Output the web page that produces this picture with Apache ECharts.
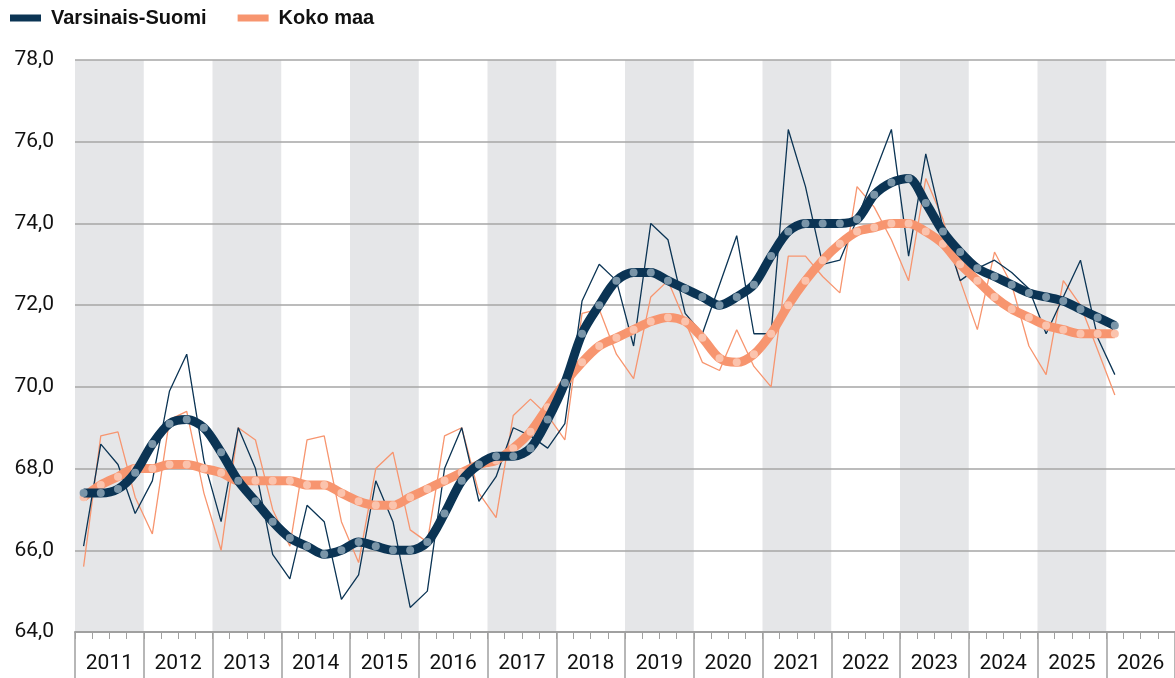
<!DOCTYPE html>
<html>
<head>
<meta charset="utf-8">
<script src="https://cdn.jsdelivr.net/npm/echarts@6/dist/echarts.min.js"></script>
<style>
  html, body { margin: 0; padding: 0; background: #fff; }
  #chart { width: 1175px; height: 678px; }
</style>
</head>
<body>
<div id="chart"></div>
<script>
// vuodet ja neljännekset
const years = ['2011', '2012', '2013', '2014', '2015', '2016', '2017', '2018',
  '2019', '2020', '2021', '2022', '2023', '2024', '2025', '2026'];
const quarters = [];
years.forEach(y => { for (let q = 1; q <= 4; q++) quarters.push(y + 'Q' + q); });

// Varsinais-Suomi, neljännesvuosiarvot
const vsQuarterly = [66.1, 68.6, 68.1, 66.9, 67.7, 69.9, 70.8, 68.2, 66.7, 69.0,
  68.0, 65.9, 65.3, 67.1, 66.7, 64.8, 65.4, 67.7, 66.7, 64.6,
  65.0, 68.0, 69.0, 67.2, 67.8, 69.0, 68.8, 68.5, 69.1, 72.1,
  73.0, 72.6, 71.0, 74.0, 73.6, 71.8, 71.3, 72.5, 73.7, 71.3,
  71.3, 76.3, 74.9, 73.0, 73.1, 74.1, 75.2, 76.3, 73.2, 75.7,
  73.9, 72.6, 72.9, 73.1, 72.8, 72.4, 71.3, 72.2, 73.1, 71.2,
  70.3];
// Varsinais-Suomi, trendi
const vsTrend = [67.4, 67.4, 67.5, 67.9, 68.6, 69.1, 69.2, 69.0, 68.4, 67.7,
  67.2, 66.7, 66.3, 66.1, 65.9, 66.0, 66.2, 66.1, 66.0, 66.0,
  66.2, 66.9, 67.7, 68.1, 68.3, 68.3, 68.5, 69.2, 70.1, 71.3,
  72.0, 72.6, 72.8, 72.8, 72.6, 72.4, 72.2, 72.0, 72.2, 72.5,
  73.2, 73.8, 74.0, 74.0, 74.0, 74.1, 74.7, 75.0, 75.1, 74.5,
  73.8, 73.3, 72.9, 72.7, 72.5, 72.3, 72.2, 72.1, 71.9, 71.7,
  71.5];
// Koko maa, neljännesvuosiarvot
const kmQuarterly = [65.6, 68.8, 68.9, 67.3, 66.4, 69.2, 69.4, 67.4, 66.0, 69.0,
  68.7, 67.0, 66.1, 68.7, 68.8, 66.7, 65.7, 68.0, 68.4, 66.5,
  66.2, 68.8, 69.0, 67.4, 66.8, 69.3, 69.7, 69.3, 68.7, 71.8,
  71.9, 70.8, 70.2, 72.2, 72.6, 71.6, 70.6, 70.4, 71.4, 70.5,
  70.0, 73.2, 73.2, 72.7, 72.3, 74.9, 74.4, 73.6, 72.6, 75.1,
  74.1, 72.6, 71.4, 73.3, 72.5, 71.0, 70.3, 72.6, 72.0, 70.9,
  69.8];
// Koko maa, trendi
const kmTrend = [67.3, 67.6, 67.8, 68.0, 68.0, 68.1, 68.1, 68.0, 67.9, 67.7,
  67.7, 67.7, 67.7, 67.6, 67.6, 67.4, 67.2, 67.1, 67.1, 67.3,
  67.5, 67.7, 67.9, 68.1, 68.2, 68.5, 68.9, 69.5, 70.1, 70.6,
  71.0, 71.2, 71.4, 71.6, 71.7, 71.6, 71.2, 70.7, 70.6, 70.8,
  71.3, 72.0, 72.6, 73.1, 73.5, 73.8, 73.9, 74.0, 74.0, 73.8,
  73.5, 73.0, 72.6, 72.2, 71.9, 71.7, 71.5, 71.4, 71.3, 71.3,
  71.3];

const navy = '#0b3454';
const salmon = '#f7956f';
const font = 'Roboto, sans-serif';
const axisGrey = '#a0a0a0';

const chart = echarts.init(document.getElementById('chart'));

const option = {
  animation: false,
  textStyle: { fontFamily: font },
  legend: {
    left: 5,
    top: 3,
    icon: 'rect',
    itemWidth: 31,
    itemHeight: 7,
    itemGap: 31,
    textStyle: {
      fontFamily: '"Liberation Sans", Arial, sans-serif',
      fontSize: 20,
      fontWeight: 'bold',
      color: '#111',
      padding: [0, 0, 0, 5]
    },
    data: [
      { name: 'Varsinais-Suomi', itemStyle: { color: navy } },
      { name: 'Koko maa', itemStyle: { color: salmon } }
    ]
  },
  grid: {
    left: 75,
    right: -3,
    top: 60,
    bottom: 46
  },
  xAxis: [
    {
      // neljännekset
      type: 'category',
      data: quarters,
      boundaryGap: true,
      axisLine: { show: true, onZero: false, lineStyle: { color: axisGrey, width: 2 } },
      axisTick: { show: true, interval: 0, length: 7, lineStyle: { color: axisGrey, width: 1 } },
      axisLabel: { show: false },
      splitLine: { show: false },
      splitArea: { show: false }
    },
    {
      // vuodet, taustaraidat
      type: 'category',
      data: years,
      position: 'bottom',
      boundaryGap: true,
      z: -1,
      axisLine: { show: false },
      axisTick: { show: true, interval: 0, length: 46, lineStyle: { color: axisGrey, width: 1.5 } },
      axisLabel: {
        show: true,
        interval: 0,
        margin: 21,
        fontSize: 21,
        color: '#111',
        fontFamily: font
      },
      splitArea: {
        show: true,
        interval: 0,
        areaStyle: { color: ['#e5e6e8', 'rgba(255,255,255,0)'] }
      },
      splitLine: { show: false }
    }
  ],
  yAxis: {
    type: 'value',
    min: 64,
    max: 78,
    interval: 2,
    axisLine: { show: false },
    axisTick: { show: false },
    axisLabel: {
      margin: 21,
      fontSize: 21,
      color: '#111',
      fontFamily: font,
      formatter: v => v.toFixed(1).replace('.', ',')
    },
    splitLine: { show: true, lineStyle: { color: '#a6a6a6', width: 1.5 } }
  },
  series: [
    {
      name: 'Koko maa',
      type: 'line',
      data: kmQuarterly,
      showSymbol: false,
      lineStyle: { color: salmon, width: 1.3 },
      itemStyle: { color: salmon },
      z: 2
    },
    {
      name: 'Varsinais-Suomi',
      type: 'line',
      data: vsQuarterly,
      showSymbol: false,
      lineStyle: { color: navy, width: 1.3 },
      itemStyle: { color: navy },
      z: 3
    },
    {
      name: 'Koko maa',
      type: 'line',
      data: kmTrend,
      smooth: 0.3,
      symbol: 'circle',
      symbolSize: 8,
      lineStyle: { color: salmon, width: 9 },
      itemStyle: { color: '#fbc3ad', borderWidth: 0 },
      z: 4
    },
    {
      name: 'Varsinais-Suomi',
      type: 'line',
      data: vsTrend,
      smooth: 0.3,
      symbol: 'circle',
      symbolSize: 8,
      lineStyle: { color: navy, width: 9 },
      itemStyle: { color: '#7a95a8', borderWidth: 0 },
      z: 5
    }
  ]
};

chart.setOption(option);
</script>
</body>
</html>
